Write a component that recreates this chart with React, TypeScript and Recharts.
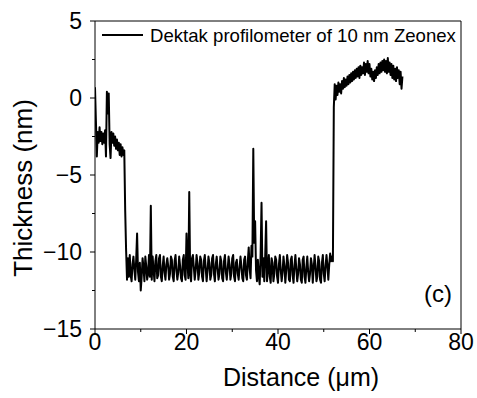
import { LineChart, Line, XAxis, YAxis, ReferenceLine } from 'recharts'

// profilometer trace, sampled every 0.2 µm
const STEP = 0.2

// film surface before the scratch, then the step down (starts at 0 µm)
const FILM_LEFT_START = 0
const FILM_LEFT = [
  0.7, -1.5, -3.8, -2.2, -2.9, -1.9, -2.8, -2.2, -3.0, -2.3,
  -2.9, -2.1, -3.8, 0.4, -1.0, 0.3, -3.0, -3.9, -2.2, -2.9,
  -2.3, -3.1, -2.5, -3.3, -2.7, -3.4, -2.9, -3.7, -3.0, -3.8,
  -3.2, -3.7, -3.4, -7.3, -9.9,
]

// scratch floor (starts at 7 µm), one row per µm
const FLOOR_START = 7
const FLOOR = [
  -11.8, -10.4, -11.6, -10.2, -11.5,
  -11.9, -10.8, -10.3, -11.1, -11.8,
  -10.5, -8.8, -11.3, -11.9, -10.7,
  -12.5, -11.6, -10.4, -11.0, -11.9,
  -10.3, -10.9, -11.8, -11.4, -10.2,
  -11.6, -7.0, -11.8, -10.3, -11.2,
  -11.9, -10.6, -10.2, -11.7, -11.5,
  -10.4, -10.2, -11.6, -11.9, -10.9,
  -10.3, -11.3, -11.8, -10.8, -10.4,
  -10.9, -11.8, -11.4, -10.3, -10.5,
  -11.6, -11.9, -10.6, -10.2, -11.2,
  -11.8, -11.3, -10.3, -10.9, -11.7,
  -11.9, -10.5, -10.2, -11.5, -11.8,
  -8.8, -10.6, -11.7, -6.1, -11.4,
  -11.9, -10.4, -10.2, -11.0, -11.8,
  -11.2, -10.2, -10.7, -11.8, -11.3,
  -10.3, -10.5, -11.6, -11.9, -10.6,
  -10.2, -11.1, -11.9, -11.2, -10.3,
  -10.7, -11.8, -11.5, -10.4, -10.2,
  -11.4, -11.9, -10.8, -10.3, -11.1,
  -11.8, -11.4, -10.3, -10.6, -11.7,
  -11.9, -10.6, -10.2, -11.3, -11.8,
  -11.1, -10.3, -10.8, -11.8, -11.4,
  -10.4, -10.2, -11.6, -11.9, -10.7,
  -10.5, -11.4, -11.8, -11.0, -10.3,
  -10.9, -11.7, -11.9, -10.5, -10.3,
  -11.5, -11.8, -10.6, -9.7, -11.1,
  -11.7, -9.6, -10.3, -3.3, -9.4,
  -8.0, -11.2, -11.9, -10.5, -11.6,
  -12.1, -10.2, -6.8, -11.6, -10.4,
  -11.9, -10.3, -8.0, -11.9, -11.1,
  -10.2, -11.6, -12.0, -10.4, -10.7,
  -11.9, -11.4, -10.3, -10.5, -11.6,
  -12.0, -10.8, -10.2, -11.2, -11.9,
  -11.3, -10.3, -10.9, -12.0, -11.2,
  -10.2, -10.7, -11.8, -11.9, -10.5,
  -10.3, -11.5, -12.0, -10.9, -10.2,
  -11.1, -11.9, -11.4, -10.4, -10.8,
  -11.8, -12.0, -10.5, -10.3, -11.6,
  -12.0, -11.0, -10.3, -11.3, -11.9,
  -11.4, -10.4, -10.8, -12.0, -11.1,
  -10.2, -10.9, -11.9, -11.6, -10.3,
  -10.6, -11.8, -12.0, -10.7, -10.2,
  -11.4, -11.9, -10.9, -10.2, -10.9,
  -11.8, -10.8, -10.1, -10.6, -10.3,
]

// step back up and film surface on the right (starts at 52 µm)
const FILM_RIGHT_START = 52
const FILM_RIGHT = [
  -10.6, -0.6, 0.9, -0.1, 0.8, 0.2, 1.0, 0.4, 0.9, 0.3,
  1.1, 0.6, 1.3, 0.7, 1.2, 0.8, 1.4, 0.9, 1.5, 1.0,
  1.6, 1.1, 1.7, 1.2, 1.8, 1.3, 1.9, 1.4, 2.0, 1.3,
  2.1, 1.5, 2.0, 1.6, 2.3, 1.5, 2.2, 1.7, 2.4, 1.6,
  2.2, 1.4, 1.9, 1.2, 1.7, 1.1, 1.8, 1.3, 2.0, 1.5,
  2.2, 1.6, 2.3, 1.7, 2.4, 1.8, 2.5, 1.7, 2.4, 1.6,
  2.6, 1.7, 2.3, 1.5, 2.2, 1.3, 2.1, 1.2, 1.9, 1.1,
  2.0, 1.3, 1.8, 0.9, 1.7, 0.6, 1.4,
]

const X_TICKS = [0, 10, 20, 30, 40, 50, 60, 70, 80]
const Y_TICKS = [-15, -12.5, -10, -7.5, -5, -2.5, 0, 2.5, 5]

const segments: [number, number[]][] = [
  [FILM_LEFT_START, FILM_LEFT],
  [FLOOR_START, FLOOR],
  [FILM_RIGHT_START, FILM_RIGHT],
]
const data = segments.flatMap(([start, vals]) =>
  vals.map((v, i) => ({ x: +(start + i * STEP).toFixed(2), y: v })),
)

const FONT = '"Liberation Sans", Arial, sans-serif'
const fmt = (v: number) => (v < 0 ? '\u2212' + Math.abs(v) : String(v))

function XTick({ x, y, payload }: any) {
  const major = payload.value % 20 === 0
  return (
    <g>
      <line x1={x} x2={x} y1={y} y2={y + (major ? 5 : 3)} stroke="#000" />
      {major && (
        <text x={x} y={y + 21} textAnchor="middle" fontSize={23} fill="#000" fontFamily={FONT}>
          {fmt(payload.value)}
        </text>
      )}
    </g>
  )
}

function YTick({ x, y, payload }: any) {
  const major = payload.value % 5 === 0
  return (
    <g>
      <line x1={x} x2={x - (major ? 5 : 3)} y1={y} y2={y} stroke="#000" />
      {major && (
        <text x={x - 13} y={y + 8.3} textAnchor="end" fontSize={23} fill="#000" fontFamily={FONT}>
          {fmt(payload.value)}
        </text>
      )}
    </g>
  )
}

export default function App() {
  return (
    <div style={{ position: 'absolute', left: 0, top: 0, width: 477, height: 398, background: '#fff', fontFamily: FONT }}>
      <LineChart width={477} height={398} data={data} margin={{ top: 21, right: 16, bottom: 9, left: 0 }}>
        <XAxis
          dataKey="x"
          type="number"
          domain={[0, 80]}
          ticks={X_TICKS}
          interval={0}
          allowDataOverflow
          height={60}
          tickLine={false}
          tickSize={0}
          tickMargin={0}
          axisLine={{ stroke: '#000' }}
          tick={(p: any) => <XTick {...p} />}
        />
        <YAxis
          type="number"
          domain={[-15, 5]}
          ticks={Y_TICKS}
          interval={0}
          allowDataOverflow
          width={95}
          tickLine={false}
          tickSize={0}
          tickMargin={0}
          axisLine={{ stroke: '#000' }}
          tick={(p: any) => <YTick {...p} />}
        />
        <ReferenceLine y={5} stroke="#000" />
        <ReferenceLine x={80} stroke="#000" />
        <Line
          type="linear"
          dataKey="y"
          stroke="#000"
          strokeWidth={2}
          strokeLinejoin="round"
          dot={false}
          isAnimationActive={false}
        />
      </LineChart>
      <svg width={477} height={398} style={{ position: 'absolute', left: 0, top: 0, pointerEvents: 'none' }}>
        <line x1={102} x2={143} y1={35} y2={35} stroke="#000" strokeWidth={2} />
        <text x={150} y={41.5} fontSize={18.6} fontFamily={FONT} fill="#000">
          Dektak profilometer of 10 nm Zeonex
        </text>
        <text x={452} y={302} fontSize={24} fontFamily={FONT} fill="#000" textAnchor="end">
          (c)
        </text>
        <text x={301} y={386} fontSize={25} fontFamily={FONT} fill="#000" textAnchor="middle">
          Distance (μm)
        </text>
        <text
          x={0}
          y={0}
          transform="translate(32,188) rotate(-90)"
          fontSize={26}
          fontFamily={FONT}
          fill="#000"
          textAnchor="middle"
        >
          Thickness (nm)
        </text>
      </svg>
    </div>
  )
}
